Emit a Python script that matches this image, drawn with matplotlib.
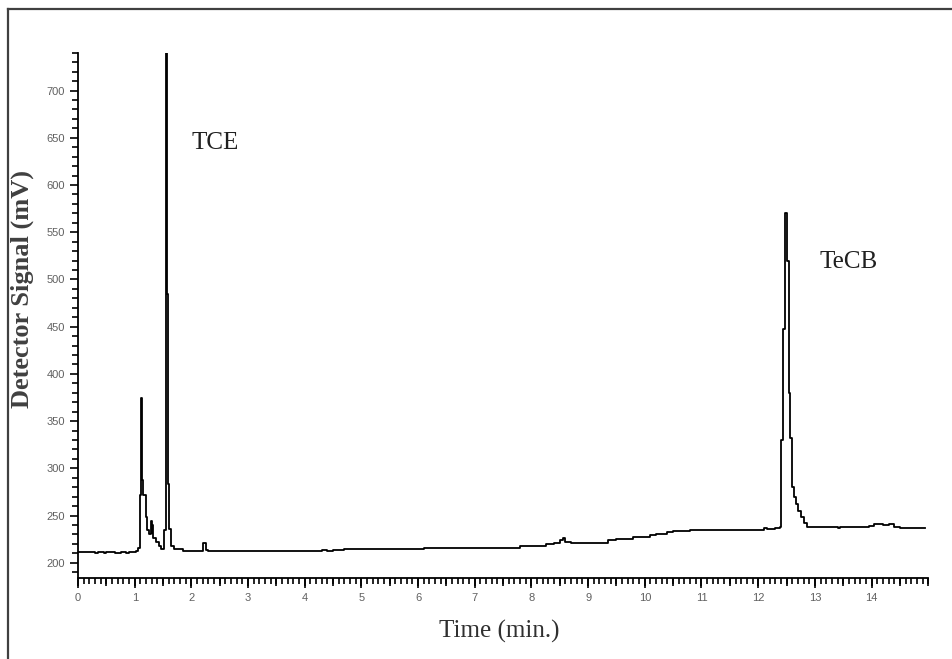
import numpy as np
import matplotlib.pyplot as plt
import matplotlib
from matplotlib.ticker import MultipleLocator
from matplotlib.lines import Line2D

matplotlib.rcParams['font.family'] = 'Liberation Sans'

# chromatogram trace (time in min, signal in mV)
time_min = [0.0, 0.3, 0.35, 0.45, 0.5, 0.65, 0.75, 0.85, 0.9, 1.03, 1.06,
            1.09, 1.11, 1.12, 1.135, 1.15, 1.19, 1.22, 1.25, 1.28, 1.30, 1.31,
            1.33, 1.37, 1.42, 1.47, 1.52, 1.545, 1.565, 1.58, 1.61, 1.64, 1.70,
            1.85, 2.2, 2.26, 2.3, 2.65, 2.7, 2.8, 2.82, 3.9, 4.0, 4.1, 4.3, 4.4,
            4.5, 4.7, 6.1, 6.2, 6.3, 7.8, 8.25, 8.4, 8.5, 8.55, 8.6, 8.7, 9.35,
            9.5, 9.8, 10.1, 10.2, 10.4, 10.5, 10.8, 11.7, 12.1, 12.15, 12.3,
            12.38, 12.41, 12.44, 12.47, 12.50, 12.54, 12.57, 12.6, 12.63, 12.66,
            12.7, 12.75, 12.8, 12.86, 13.4, 13.45, 13.95, 14.05, 14.2, 14.3,
            14.4, 14.5, 14.6, 14.7, 14.8, 14.95]
signal_mv = [211, 210, 211, 210, 211, 210, 211, 210, 211, 213, 216,
             272, 375, 300, 288, 272, 248, 235, 230, 244, 232, 240,
             226, 222, 218, 215, 235, 760, 485, 283, 236, 218, 215,
             212, 221, 214, 212, 213, 212, 213, 212, 213, 212.5, 213, 213.5, 213,
             214, 214.5, 216, 215.5, 216, 218, 220, 221, 224, 226, 222, 221, 224,
             225, 227, 229, 231, 233, 234, 234.5, 235, 236.5, 236, 237,
             238, 330, 448, 570, 520, 380, 332, 280, 270, 262,
             255, 248, 242, 238, 237, 238, 239, 241, 240, 241,
             238, 237, 236.5, 237, 236.5, 236.5]

peak_names = ["TCE", "TeCB"]
peak_label_x = [2.0, 13.08]
peak_label_y = [644, 518]

fig = plt.figure(figsize=(9.52, 6.59), dpi=100, facecolor='white')
ax = fig.add_axes([0.082, 0.123, 0.893, 0.797])

ax.plot(time_min, signal_mv, color='black', linewidth=1.3, drawstyle='steps-post')

for name, px, py in zip(peak_names, peak_label_x, peak_label_y):
    ax.text(px, py, name, fontsize=18, family='Liberation Serif', va='center',
            color='#202020')

ax.set_xlim(0, 15)
ax.set_ylim(184, 740)

ax.spines['top'].set_visible(False)
ax.spines['right'].set_visible(False)
ax.spines['left'].set_linewidth(1.3)
ax.spines['bottom'].set_linewidth(1.3)

ax.set_xticks(np.arange(0, 15, 1))
ax.xaxis.set_minor_locator(MultipleLocator(0.1))
ax.set_yticks(np.arange(200, 701, 50))
ax.yaxis.set_minor_locator(MultipleLocator(10))

ax.tick_params(which='major', direction='out', length=7, width=1.2,
               labelsize=8, labelcolor='#606060')
ax.tick_params(which='minor', direction='out', length=4, width=1.2)
ax.tick_params(axis='y', which='major', length=6)

# half-minute ticks are a bit longer
half = ax.secondary_xaxis('bottom')
half.xaxis.set_major_locator(MultipleLocator(0.5))
half.tick_params(direction='out', length=6, width=1.2, labelbottom=False)
half.spines['bottom'].set_visible(False)

ax.set_xlabel('Time (min.)', family='Liberation Serif', fontsize=18,
              color='#303030')
ax.xaxis.set_label_coords(0.495, -0.08)
ax.set_ylabel('Detector Signal (mV)', family='Liberation Serif', fontsize=19,
              fontweight='bold', color='#404040')
ax.yaxis.set_label_coords(-0.052, 0.55)

# picture frame
fig.add_artist(Line2D([0.0084, 1.0], [0.986, 0.986], color='#404040', linewidth=1.6))
fig.add_artist(Line2D([0.0084, 0.0084], [0.0, 0.986], color='#404040', linewidth=1.6))

fig.savefig('out.png', dpi=100, facecolor='white')
